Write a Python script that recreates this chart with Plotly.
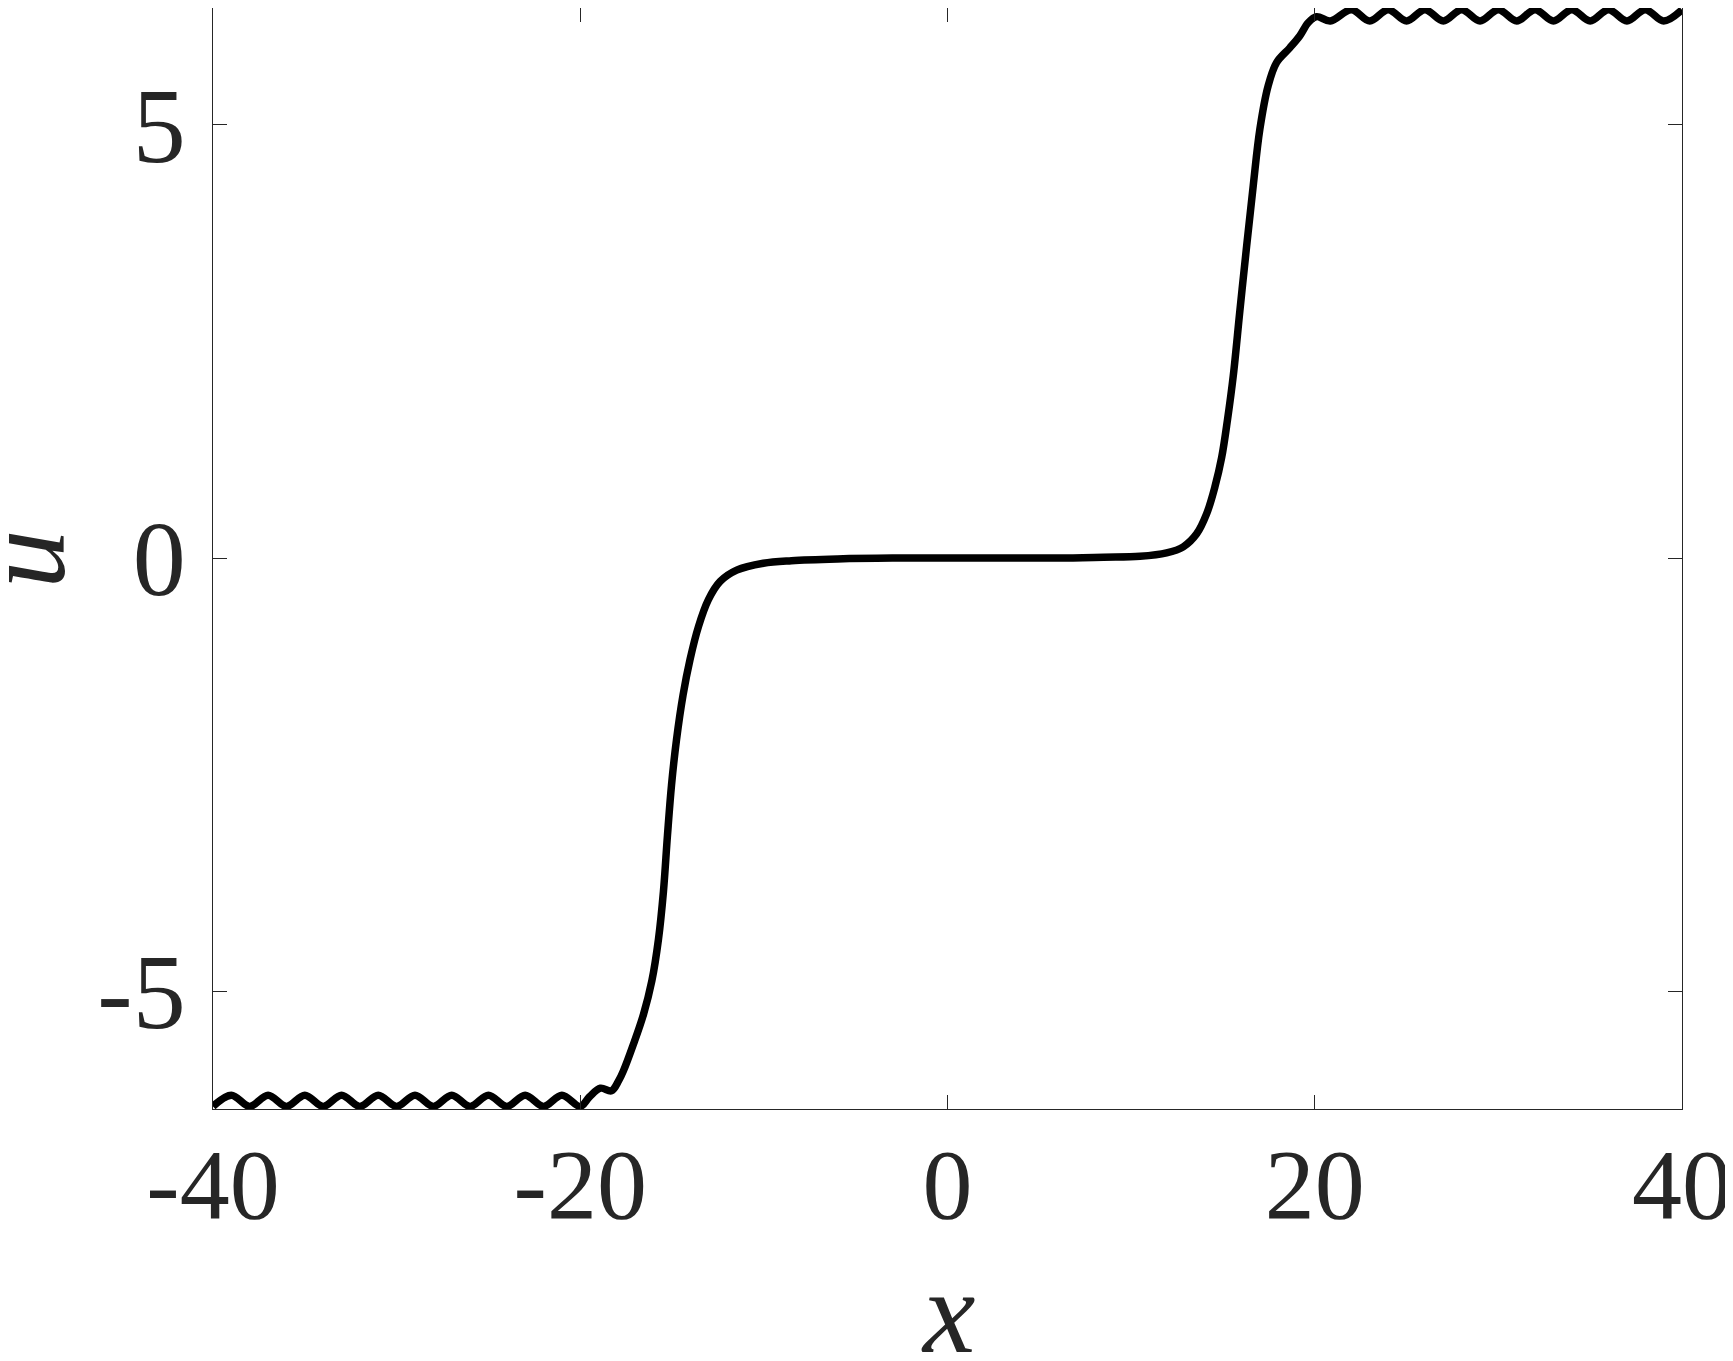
import plotly.graph_objects as go

# values (x, u)
x_left_tail = [-40, -39, -38, -37, -36, -35, -34, -33, -32, -31, -30,
               -29, -28, -27, -26, -25, -24, -23, -22, -21, -20]
u_left_tail = [-6.33, -6.20, -6.33, -6.20, -6.33, -6.20, -6.33, -6.20, -6.33, -6.20, -6.33,
               -6.20, -6.33, -6.20, -6.33, -6.20, -6.33, -6.20, -6.33, -6.20, -6.33]

x_left_kink = [-19.5, -18.9, -18.3, -17.9, -17.65, -17.1, -16.56, -16.1, -15.74, -15.47,
               -15.25, -15.03, -14.76, -14.4, -14.02, -13.56, -13.02, -12.38, -11.48, -10.03]
u_left_kink = [-6.22, -6.12, -6.15, -6.03, -5.92, -5.61, -5.27, -4.88, -4.40, -3.85,
               -3.20, -2.62, -2.10, -1.58, -1.17, -0.79, -0.48, -0.27, -0.14, -0.06]

x_middle = [-8.5, -6.0, -3.0, 0.0, 3.0, 6.0, 8.5, 10.48]
u_middle = [-0.03, -0.01, 0.0, 0.0, 0.0, 0.0, 0.01, 0.02]

x_right_kink = [11.93, 12.84, 13.57, 14.11, 14.56, 14.93, 15.25, 15.56, 15.92, 16.29,
                16.65, 17.01, 17.46, 17.92, 18.64, 19.19, 19.64, 20.1, 20.85]
u_right_kink = [0.06, 0.13, 0.28, 0.51, 0.82, 1.16, 1.60, 2.10, 2.85, 3.60,
                4.30, 4.95, 5.45, 5.72, 5.89, 6.03, 6.18, 6.25, 6.20]

x_right_tail = [22, 23, 24, 25, 26, 27, 28, 29, 30, 31, 32, 33, 34, 35, 36, 37, 38, 39, 40]
u_right_tail = [6.33, 6.20, 6.33, 6.20, 6.33, 6.20, 6.33, 6.20, 6.33, 6.20,
                6.33, 6.20, 6.33, 6.20, 6.33, 6.20, 6.33, 6.20, 6.33]

x_ticks = [-40, -20, 0, 20, 40]
x_tick_text = ["-40", "-20", "0", "20", "40"]
u_ticks = [-5, 0, 5]
u_tick_text = ["-5", "0", "5"]

xs = x_left_tail + x_left_kink + x_middle + x_right_kink + x_right_tail
us = u_left_tail + u_left_kink + u_middle + u_right_kink + u_right_tail

ink = "#262626"
serif = '"Liberation Serif", "Times New Roman", "DejaVu Serif", serif'

fig = go.Figure()
fig.add_trace(go.Scatter(
    x=xs, y=us, mode="lines",
    line=dict(color="black", width=7.5, shape="spline", smoothing=1.0),
    showlegend=False,
))

axis_common = dict(
    showgrid=False, zeroline=False, automargin=False,
    showline=True, mirror="ticks", linecolor=ink, linewidth=1.3,
    ticks="inside", ticklen=14, tickwidth=1.3, tickcolor=ink,
    ticklabeloverflow="allow",
)

# the page body adds 8px, so the figure is 8px smaller than the window
fig.update_layout(
    width=1725, height=1353,
    font=dict(family=serif, color=ink),
    margin=dict(l=205, r=51, t=0, b=252),
    paper_bgcolor="white", plot_bgcolor="white",
    xaxis=dict(range=[-40, 40], tickvals=x_ticks, ticktext=x_tick_text,
               tickfont=dict(family=serif, size=100, color=ink),
               ticklabelstandoff=-12, **axis_common),
    yaxis=dict(range=[-6.36, 6.35], tickvals=u_ticks, ticktext=u_tick_text,
               tickfont=dict(family=serif, size=106, color=ink),
               ticklabelstandoff=5, **axis_common),
    annotations=[
        dict(text="<i>x</i>", xref="paper", yref="paper", x=0.5, y=-0.185,
             xanchor="center", yanchor="middle", showarrow=False,
             font=dict(family=serif, size=118, color=ink)),
        dict(text="<i>u</i>", xref="paper", yref="paper", x=-0.128, y=0.5,
             xanchor="center", yanchor="middle", showarrow=False, textangle=-90,
             font=dict(family=serif, size=118, color=ink)),
    ],
)

fig.write_html("out.html")
